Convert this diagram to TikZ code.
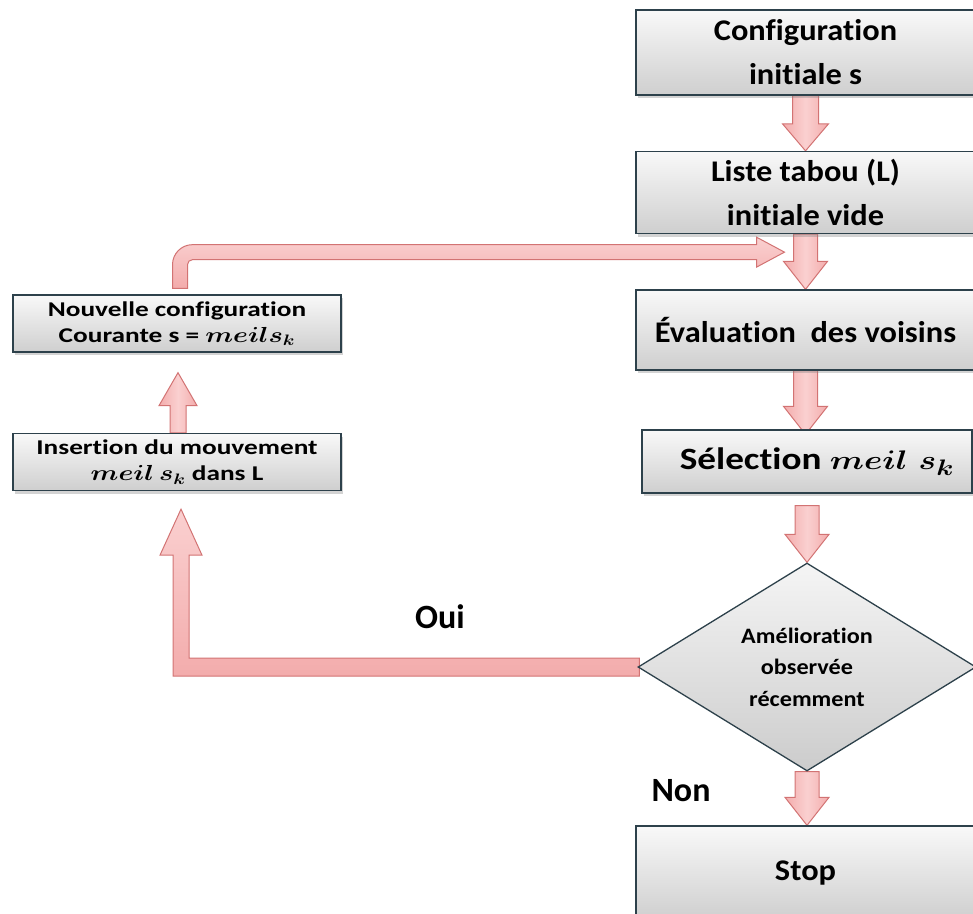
\documentclass[tikz,border=0pt]{standalone}
\usepackage{fontspec}
\usepackage{graphicx}
\setmainfont[Ligatures=NoCommon]{Carlito}
\newfontfamily\bigfont[FakeStretch=1.08,Ligatures=NoCommon]{Carlito}
\newfontfamily\selfont[FakeStretch=1.2,Ligatures=NoCommon]{Carlito}
\newfontfamily\leftfont[FakeStretch=1.3,Ligatures=NoCommon]{Carlito}
\newfontfamily\diafont[FakeStretch=1.1,Ligatures=NoCommon]{Carlito}
\newcommand\mth[3]{\scalebox{#1}[#2]{\boldmath$#3$}}
\usetikzlibrary{shapes.geometric,shadows,calc,backgrounds}
\definecolor{boxdraw}{RGB}{45,65,75}
\definecolor{arrfill}{RGB}{243,172,172}
\definecolor{arrlight}{RGB}{250,208,208}
\definecolor{arrdraw}{RGB}{210,115,115}
\tikzset{
  box/.style={draw=boxdraw, line width=1.3pt, top color=gray!5, bottom color=gray!38,
    drop shadow={shadow xshift=2pt, shadow yshift=-3pt, opacity=0.35},
    align=center, inner sep=0pt, font=\bigfont\bfseries\fontsize{30}{44}\selectfont},
  selbox/.style={box, font=\selfont\bfseries\fontsize{31}{44}\selectfont},
  smallbox/.style={box, font=\leftfont\bfseries\fontsize{21}{26}\selectfont},
  decision/.style={diamond, aspect=1.6, draw=boxdraw, line width=1.3pt, top color=gray!8, bottom color=gray!40,
    align=center, inner sep=0pt, font=\diafont\bfseries\fontsize{22}{31.5}\selectfont},
  blockarrow/.style={left color=arrfill, right color=arrfill, middle color=arrlight, draw=arrdraw, line width=1pt, line join=miter},
  harrow/.style={top color=arrlight, bottom color=arrfill, draw=arrdraw, line width=1pt, line join=miter},
  answer/.style={font=\bfseries\fontsize{34}{40}\selectfont}
}
% #1 from, #2 to, #3 half shaft, #4 half head, #5 head length
\newcommand\downblock[5]{\path[blockarrow] let \p1=(#1), \p2=(#2) in
  (\x1-#3,\y1) -- (\x1+#3,\y1) -- (\x1+#3,\y2+#5) -- (\x1+#4,\y2+#5) -- (\x1,\y2)
  -- (\x1-#4,\y2+#5) -- (\x1-#3,\y2+#5) -- cycle;}
\newcommand\upblock[5]{\path[blockarrow] let \p1=(#1), \p2=(#2) in
  (\x1-#3,\y1) -- (\x1+#3,\y1) -- (\x1+#3,\y2-#5) -- (\x1+#4,\y2-#5) -- (\x1,\y2)
  -- (\x1-#4,\y2-#5) -- (\x1-#3,\y2-#5) -- cycle;}
\begin{document}
\begin{tikzpicture}[x=1pt,y=-1pt]
\useasboundingbox (0,0) rectangle (973,913);

% right column
\node[box, minimum width=339pt, minimum height=85pt] (conf) at (805.5,52.5) {Configuration\\initiale s};
\node[box, minimum width=339pt, minimum height=82pt] (liste) at (805.5,192.5) {Liste tabou (L)\\initiale vide};
\node[box, minimum width=339pt, minimum height=80pt] (eval) at (805.5,330) {Évaluation\ \ des voisins};
\node[selbox, minimum width=330pt, minimum height=63pt] (sel) at (807,461.5) {\hspace*{20pt}Sélection \mth{1.33}{1.08}{meil\ s_k}};
\node[decision, minimum width=338pt, minimum height=208pt] (dia) at (807,667) {Amélioration\\observée\\récemment};
\node[box, minimum width=339pt, minimum height=94pt] (stop) at (805.5,873) {Stop};

% left column
\node[smallbox, minimum width=328pt, minimum height=57pt] (nouv) at (177,323.5) {Nouvelle configuration\\Courante s = \mth{1.3}{1.05}{meils_k}};
\node[smallbox, minimum width=328pt, minimum height=57pt] (ins) at (177,462) {Insertion du mouvement\\\mth{1.3}{1.05}{meil\,s_k} dans L};

% labels
\node[answer] (oui) at (440,617) {Oui};
\node[answer] (non) at (681,791) {Non};

\coordinate (loopstart) at ($(nouv.north)+(3,-6)$);
\coordinate (looptip) at ($(liste.south)+(-21,18)$);
\coordinate (ouitip) at ($(ins.south)+(4,18)$);
\coordinate (uptip) at ($(nouv.south)+(1,20)$);

\begin{scope}[on background layer]
  % loop from Nouvelle configuration to the main column
  \path[harrow] let \p1=(loopstart), \p2=(looptip) in
    (\x1-7.5pt,\y1) -- (\x1-7.5pt,\y2+7.5pt-20pt)
    arc[start angle=180, end angle=90, radius=20pt]
    -- (\x2-28pt,\y2+7.5pt) -- (\x2-28pt,\y2+15pt) -- (\x2,\y2) -- (\x2-28pt,\y2-15pt)
    -- (\x2-28pt,\y2-7.5pt) -- (\x1+7.5pt+5pt,\y2-7.5pt)
    arc[start angle=90, end angle=180, radius=5pt]
    -- (\x1+7.5pt,\y1) -- cycle;
  % vertical arrows of the main column
  \downblock{conf.south}{liste.north}{13pt}{23pt}{27pt}
  \downblock{liste.south}{eval.north}{12pt}{22pt}{28pt}
  \downblock{eval.south}{[yshift=-5pt]sel.north}{12pt}{22pt}{28pt}
  \downblock{[yshift=-12pt]sel.south}{dia.north}{12pt}{22pt}{28pt}
  \downblock{dia.south}{stop.north}{12pt}{22pt}{28pt}
  % Insertion -> Nouvelle
  \upblock{[xshift=1pt]ins.north}{uptip}{8pt}{19pt}{33pt}
  % Oui
  \path[harrow] let \p1=(dia.west), \p2=(ouitip) in
    (\x1+2pt,\y1-9pt) -- (\x1+2pt,\y1+9pt) -- (\x2+8pt,\y1+9pt) -- (\x2+8pt,\y2-46pt)
    -- (\x2+21pt,\y2-46pt) -- (\x2,\y2) -- (\x2-21pt,\y2-46pt) -- (\x2-8pt,\y2-46pt)
    -- (\x2-8pt,\y1-9pt) -- cycle;
\end{scope}
\end{tikzpicture}
\end{document}
